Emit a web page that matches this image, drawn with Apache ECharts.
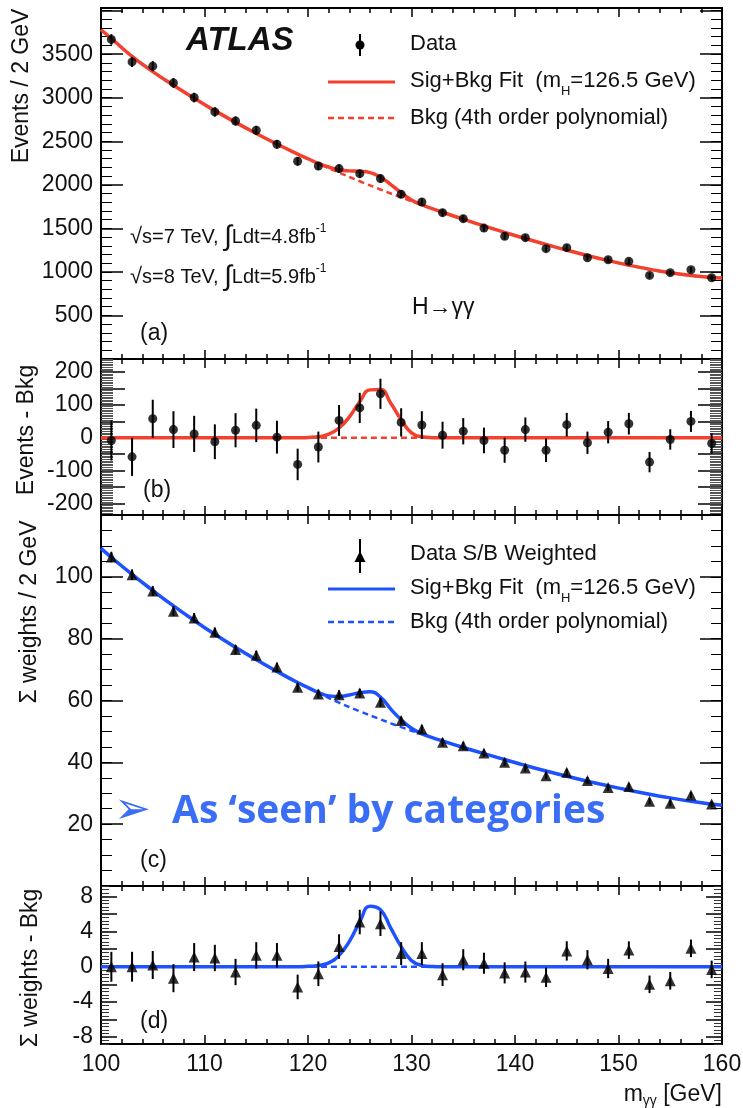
<!DOCTYPE html>
<html><head><meta charset="utf-8">
<script src="https://cdn.jsdelivr.net/npm/echarts@6/dist/echarts.min.js"></script>
<style>html,body{margin:0;padding:0;background:#fff}#c{width:743px;height:1108px}</style>
</head><body><div id="c"></div>
<script>
// ---------------- data ----------------
const massX = [101,103,105,107,109,111,113,115,117,119,121,123,125,127,129,131,133,135,137,139,141,143,145,147,149,151,153,155,157,159];
// panel (a): events / 2 GeV
const dataA = [3669,3411,3362,3170,3002,2837,2733,2626,2465,2270,2216,2186,2128,2071,1891,1802,1680,1611,1503,1408,1393,1267,1278,1163,1140,1121,960,991,1025,933];
const errA  = [61,58,58,56,55,53,52,51,50,48,47,47,46,46,43,42,41,40,39,38,37,36,36,34,34,33,31,31,32,31];
// panel (b): events - bkg
const residB = [-8,-58,58,25,12,-12,23,38,2,-81,-28,53,91,134,47,39,8,20,-8,-38,25,-38,40,-15,17,43,-74,-5,50,-17];
// panel (c): sum of weights / 2 GeV
const dataC = [106.4,100.7,95.4,88.9,86.7,82.1,76.5,74.6,70.8,64.3,62.1,61.9,62.4,59.4,53.5,50.8,46.5,45.4,43.0,40.0,38.2,35.7,36.8,34.1,31.9,32.2,27.4,26.8,29.4,26.5];
const errC  = [1.7,1.7,1.6,1.6,1.6,1.5,1.5,1.5,1.4,1.4,1.4,1.4,1.4,1.4,1.3,1.3,1.3,1.2,1.2,1.2,1.2,1.1,1.1,1.1,1.1,1.0,1.0,1.0,1.0,1.0];
// panel (d): sum of weights - bkg
const residD = [0,0,0.2,-1.3,1.1,1.0,-0.6,1.3,1.3,-2.3,-0.8,2.3,5.1,4.9,1.5,1.5,-0.9,0.8,0.4,-0.7,-0.6,-1.2,1.8,0.8,-0.2,1.9,-2.0,-1.6,2.1,-0.3];
const errD  = [1.7,1.7,1.6,1.6,1.6,1.5,1.5,1.5,1.4,1.4,1.4,1.4,1.4,1.4,1.3,1.3,1.3,1.2,1.2,1.2,1.2,1.1,1.1,1.1,1.1,1.0,1.0,1.0,1.0,1.0];

// background fit curves (dashed)
const bkgX = [100,101,103,105,107,109,111,113,115,117,119,121,123,125,127,129,131,133,135,137,139,141,143,145,147,149,151,153,155,157,159,160];
const bkgA = [3780,3680,3475,3300,3143,2993,2852,2717,2590,2468,2353,2244,2140,2041,1946,1855,1768,1685,1605,1528,1454,1383,1315,1250,1188,1130,1077,1030,990,958,935,930];
const bkgC = [109.2,106.3,100.8,95.6,90.6,85.9,81.4,77.2,73.2,69.4,65.8,62.4,59.3,56.5,53.9,51.4,49.1,46.9,44.8,42.8,40.9,39.0,37.2,35.5,33.9,32.4,31.0,29.7,28.5,27.4,26.5,26.1];
// signal + background fit curves (solid)
const sbX  = [100,101,103,105,107,109,111,113,115,117,119,120,121,122,123,124,125,126,127,128,129,130,131,132,133,135,137,139,141,143,145,147,149,151,153,155,157,159,160];
const sbA  = [3780,3680,3475,3300,3143,2993,2852,2717,2590,2468,2353,2299,2247,2204,2172,2160,2155,2140,2088,2003,1910,1825,1771,1726,1685,1605,1528,1454,1383,1315,1250,1188,1130,1077,1030,990,958,935,930];
const sbC  = [109.2,106.3,100.8,95.6,90.6,85.9,81.4,77.2,73.2,69.4,65.8,64.2,62.6,61.5,61.3,61.8,62.5,62.8,61.1,57.2,53.8,51.0,49.3,48.0,46.9,44.8,42.8,40.9,39.0,37.2,35.5,33.9,32.4,31.0,29.7,28.5,27.4,26.5,26.1];
// signal-only curves for residual panels
const sigX = [100,118,119,120,121,122,123,124,125,126,127,128,129,130,131,132,133,134,160];
const sigB = [0,0,0,1,3,11,30,64,110,146,147,105,55,15,3,0.5,0,0,0];
const sigD = [0,0,0,0.05,0.15,0.45,1.3,2.9,5.1,6.9,6.5,4.4,2.3,0.7,0.15,0.02,0,0,0];

// tick label values
const xLabels = [100,110,120,130,140,150,160];
const yLabelsA = [500,1000,1500,2000,2500,3000,3500];
const yLabelsB = [-200,-100,0,100,200];
const yLabelsC = [20,40,60,80,100];
const yLabelsD = [-8,-4,0,4,8];

// ---------------- layout / style ----------------
const FONT = '"Liberation Sans", Arial, Helvetica, sans-serif';
const RED = '#f2412f', BLUE = '#1f52ff', TXT = '#111', ANN = '#3b6ef6';
const L = 101, W = 621;
const grids = [{top:8,height:351},{top:359,height:156},{top:515,height:371},{top:886,height:158}];

function range(a, b, s) { const out = []; for (let v = a; v <= b + 1e-9; v += s) out.push(Math.round(v * 1000) / 1000); return out; }

const yCfg = [
  {min:0, max:4030, labels:yLabelsA, major:range(0,4000,500), minInt:100, majLen:22, minLen:11, minColor:'#000'},
  {min:-235, max:240, labels:yLabelsB, major:range(-200,200,50), minInt:5, majLen:24, minLen:12, minColor:'#555'},
  {min:0, max:120, labels:yLabelsC, major:range(0,120,20), minInt:5, majLen:22, minLen:11, minColor:'#000'},
  {min:-8.8, max:9.2, labels:yLabelsD, major:range(-8,8,2), minInt:0.4, majLen:16, minLen:8, minColor:'#333'}
];
const xMajor = range(100,160,10);

const plain = v => String(Math.round(v * 100) / 100);
const xAxis = [], yAxis = [];
grids.forEach((g, i) => {
  const baseX = {gridIndex:i, type:'value', min:100, max:160, axisLine:{show:false,onZero:false}, splitLine:{show:false}, minorTick:{show:false}};
  const tick = (len, vals, col, w) => ({show:true, inside:true, length:len, customValues:vals, lineStyle:{color:col||'#000', width:w||1.5}});
  const itick = (len, col, w) => ({show:true, inside:true, length:len, lineStyle:{color:col||'#000', width:w||1.5}});
  xAxis.push(Object.assign({}, baseX, {position:'bottom', axisTick:tick(9,xMajor),
    axisLabel:{show:i===3, customValues:xLabels, formatter:plain, fontSize:23, fontFamily:FONT, color:TXT, margin:9}}));
  xAxis.push(Object.assign({}, baseX, {position:'bottom', interval:2, axisTick:itick(5), axisLabel:{show:false}}));
  xAxis.push(Object.assign({}, baseX, {position:'top', axisTick:tick(9,xMajor), axisLabel:{show:false}}));
  xAxis.push(Object.assign({}, baseX, {position:'top', interval:2, axisTick:itick(5), axisLabel:{show:false}}));
  const c = yCfg[i];
  const baseY = {gridIndex:i, type:'value', min:c.min, max:c.max, axisLine:{show:false,onZero:false}, splitLine:{show:false}, minorTick:{show:false}};
  yAxis.push(Object.assign({}, baseY, {position:'left', axisTick:tick(c.majLen,c.major),
    axisLabel:{show:true, customValues:c.labels, formatter:plain, fontSize:23, fontFamily:FONT, color:TXT, margin:8}}));
  yAxis.push(Object.assign({}, baseY, {position:'left', interval:c.minInt, axisTick:itick(c.minLen,c.minColor,1), axisLabel:{show:false}}));
  yAxis.push(Object.assign({}, baseY, {position:'right', axisTick:tick(c.majLen,c.major), axisLabel:{show:false}}));
  yAxis.push(Object.assign({}, baseY, {position:'right', interval:c.minInt, axisTick:itick(c.minLen,c.minColor,1), axisLabel:{show:false}}));
});

function lineS(i, xs, ys, color, dashed, w) {
  return {type:'line', xAxisIndex:4*i, yAxisIndex:4*i, data:xs.map((x,k)=>[x,ys[k]]),
    showSymbol:false, symbol:'none', smooth:0.5, silent:true, z:2,
    lineStyle:{color:color, width:w, type:dashed?[6,4]:'solid'}};
}
function errS(i, ys, es) {
  return {type:'custom', xAxisIndex:4*i, yAxisIndex:4*i, encode:{x:0,y:1}, z:3, silent:true,
    data:massX.map((x,k)=>[x,ys[k],es[k]]),
    renderItem:(p, api) => {
      const x = api.value(0), y = api.value(1), e = api.value(2);
      const a = api.coord([x, y+e]), b = api.coord([x, y-e]);
      return {type:'line', shape:{x1:a[0],y1:a[1],x2:b[0],y2:b[1]}, style:{stroke:'#000', lineWidth:2}};
    }};
}
function ptsS(i, ys, sym, size) {
  return {type:'scatter', xAxisIndex:4*i, yAxisIndex:4*i, data:massX.map((x,k)=>[x,ys[k]]),
    symbol:sym, symbolSize:size, itemStyle:{color:'#000'}, z:4, silent:true};
}

const series = [
  lineS(0, bkgX, bkgA, RED, true, 2.5), lineS(0, sbX, sbA, RED, false, 3.5), errS(0, dataA, errA), ptsS(0, dataA, 'circle', 9),
  lineS(1, [100,160], [0,0], RED, true, 2.5), lineS(1, sigX, sigB, RED, false, 3.5), errS(1, residB, errA), ptsS(1, residB, 'circle', 9),
  lineS(2, bkgX, bkgC, BLUE, true, 2.5), lineS(2, sbX, sbC, BLUE, false, 3.5), errS(2, dataC, errC), ptsS(2, dataC, 'triangle', 11),
  lineS(3, [100,160], [0,0], BLUE, true, 2.5), lineS(3, sigX, sigD, BLUE, false, 3.5), errS(3, residD, errD), ptsS(3, residD, 'triangle', 11)
];

// ---------------- text / legend graphics ----------------
const mctx = document.createElement('canvas').getContext('2d');
function fontStr(size, pre, fam) { return (pre ? pre + ' ' : '') + size + 'px ' + (fam || FONT); }
function txt(x, y, text, size, opt) {
  opt = opt || {};
  return {type:'text', x:x, y:y, rotation:opt.rot||0, silent:true, z:10,
    style:{text:text, font:fontStr(size, opt.pre, opt.fam), fill:opt.color||TXT,
      align:opt.align||'left', textAlign:opt.align||'left', verticalAlign:'middle', textVerticalAlign:'middle'}};
}
// parts: [text, size, dy]
function segs(x, y, parts, align) {
  const ws = parts.map(p => { mctx.font = fontStr(p[1]); return mctx.measureText(p[0]).width; });
  const total = ws.reduce((a,b)=>a+b, 0);
  let cx = align === 'right' ? x - total : x;
  const out = [];
  parts.forEach((p, k) => { out.push(txt(cx, y + (p[2]||0), p[0], p[1])); cx += ws[k]; });
  return out;
}
function hline(x1, x2, y, color, w, dash) {
  return {type:'line', silent:true, z:10, shape:{x1:x1,y1:y,x2:x2,y2:y}, style:{stroke:color, lineWidth:w, lineDash:dash||null}};
}
function vline(x, y1, y2) {
  return {type:'line', silent:true, z:10, shape:{x1:x,y1:y1,x2:x,y2:y2}, style:{stroke:'#000', lineWidth:2}};
}

const graphics = [];
// panel (a)
graphics.push(txt(186, 41, 'ATLAS', 33, {pre:'italic bold'}));
graphics.push(vline(360, 34, 56), {type:'circle', silent:true, z:10, shape:{cx:360, cy:45, r:4.5}, style:{fill:'#000'}});
graphics.push(txt(410, 44, 'Data', 22));
graphics.push(hline(328, 395, 82, RED, 3, null));
graphics.push(...segs(410, 81, [['Sig+Bkg Fit  (m',22],['H',13,10],['=126.5 GeV)',22]]));
graphics.push(hline(328, 395, 118, RED, 2.5, [6,4]));
graphics.push(txt(410, 118, 'Bkg (4th order polynomial)', 22));
graphics.push(...segs(130, 237, [['√',22],['s=7 TeV, ',20],['∫',28],['Ldt=4.8fb',20],['-1',12,-8]]));
graphics.push(...segs(130, 277, [['√',22],['s=8 TeV, ',20],['∫',28],['Ldt=5.9fb',20],['-1',12,-8]]));
graphics.push(txt(412, 308, 'H→γγ', 23));
graphics.push(txt(140, 334, '(a)', 23));
// panel (b)
graphics.push(txt(143, 491, '(b)', 23));
// panel (c)
graphics.push(vline(360, 539, 573), {type:'polygon', silent:true, z:10, shape:{points:[[360,551],[354.5,562],[365.5,562]]}, style:{fill:'#000'}});
graphics.push(txt(410, 554, 'Data S/B Weighted', 22));
graphics.push(hline(328, 395, 589, BLUE, 3, null));
graphics.push(...segs(410, 588, [['Sig+Bkg Fit  (m',22],['H',13,10],['=126.5 GeV)',22]]));
graphics.push(hline(328, 395, 622, BLUE, 2.5, [6,4]));
graphics.push(txt(410, 622, 'Bkg (4th order polynomial)', 22));
graphics.push(txt(140, 861, '(c)', 23));
// panel (d)
graphics.push(txt(140, 1022, '(d)', 23));
// axis titles
graphics.push(txt(22, 86, 'Events / 2 GeV', 23, {rot:Math.PI/2, align:'center'}));
graphics.push(txt(27, 430, 'Events - Bkg', 23, {rot:Math.PI/2, align:'center'}));
graphics.push(txt(30, 612, 'Σ weights / 2 GeV', 23, {rot:Math.PI/2, align:'center'}));
graphics.push(txt(31, 968, 'Σ weights - Bkg', 23, {rot:Math.PI/2, align:'center'}));
graphics.push(...segs(722, 1095, [['m',23],['γγ',14,6],[' [GeV]',23]], 'right'));
// annotation
graphics.push(txt(114, 812, '➢', 44, {fam:'"DejaVu Sans"', color:ANN}));
graphics.push(txt(172, 812, 'As ‘seen’ by categories', 39, {pre:'bold', fam:'"Open Sans", Lato, sans-serif', color:ANN}));

const chart = echarts.init(document.getElementById('c'), null, {renderer:'canvas'});
chart.setOption({
  animation:false,
  backgroundColor:'#fff',
  textStyle:{fontFamily:FONT},
  grid: grids.map(g => ({left:L, top:g.top, width:W, height:g.height, show:true, borderColor:'#000', borderWidth:2, backgroundColor:'transparent', containLabel:false, outerBoundsMode:'none'})),
  xAxis: xAxis,
  yAxis: yAxis,
  series: series,
  graphic: {elements: graphics}
});
</script></body></html>
